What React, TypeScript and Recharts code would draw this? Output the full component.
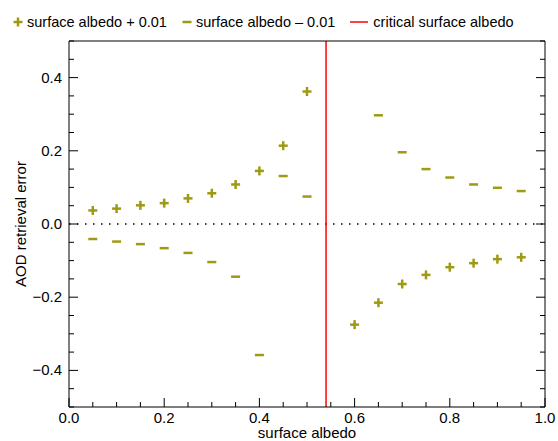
import {
  ScatterChart, Scatter, XAxis, YAxis, ReferenceLine,
} from 'recharts'

const OLIVE = '#9f9a12'
const RED = '#ff0000'
const FONT = '"Liberation Sans", Arial, Helvetica, sans-serif'

// surface albedo + 0.01
const plusX = [0.05, 0.1, 0.15, 0.2, 0.25, 0.3, 0.35, 0.4, 0.45, 0.5, 0.6, 0.65, 0.7, 0.75, 0.8, 0.85, 0.9, 0.95]
const plusY = [0.037, 0.042, 0.051, 0.057, 0.07, 0.084, 0.108, 0.145, 0.214, 0.362, -0.275, -0.215, -0.164, -0.139, -0.118, -0.107, -0.096, -0.091]

// surface albedo - 0.01
const minusX = [0.05, 0.1, 0.15, 0.2, 0.25, 0.3, 0.35, 0.4, 0.45, 0.5, 0.65, 0.7, 0.75, 0.8, 0.85, 0.9, 0.95]
const minusY = [-0.041, -0.048, -0.055, -0.066, -0.079, -0.104, -0.144, -0.358, 0.131, 0.075, 0.297, 0.196, 0.15, 0.127, 0.108, 0.099, 0.09]

const criticalAlbedo = 0.54

const xTicks = [0, 0.05, 0.1, 0.15, 0.2, 0.25, 0.3, 0.35, 0.4, 0.45, 0.5, 0.55, 0.6, 0.65, 0.7, 0.75, 0.8, 0.85, 0.9, 0.95, 1.0]
const yTicks = [-0.5, -0.45, -0.4, -0.35, -0.3, -0.25, -0.2, -0.15, -0.1, -0.05, 0, 0.05, 0.1, 0.15, 0.2, 0.25, 0.3, 0.35, 0.4, 0.45, 0.5]
const xLabelTicks = [0, 0.2, 0.4, 0.6, 0.8, 1.0]
const yLabelTicks = [-0.4, -0.2, 0, 0.2, 0.4]

const plusData = plusX.map((x, i) => ({ x, y: plusY[i] }))
const minusData = minusX.map((x, i) => ({ x, y: minusY[i] }))

const isMajor = (v: number, list: number[]) => list.some(t => Math.abs(t - v) < 1e-6)
const fmt = (v: number) => (v < 0 ? '\u2212' : '') + Math.abs(v).toFixed(1)

const MAJOR = 9
const MINOR = 5

function BottomTick({ x, y, payload }: any) {
  const major = isMajor(payload.value, xLabelTicks)
  return (
    <g>
      <line x1={x} x2={x} y1={y} y2={y - (major ? MAJOR : MINOR)} stroke="#000" />
      {major && (
        <text x={x} y={y + 16} textAnchor="middle" fontSize={15} fontFamily={FONT} fill="#000">{fmt(payload.value)}</text>
      )}
    </g>
  )
}

function TopTick({ x, y, payload }: any) {
  const major = isMajor(payload.value, xLabelTicks)
  return <line x1={x} x2={x} y1={y} y2={y + (major ? MAJOR : MINOR)} stroke="#000" />
}

function LeftTick({ x, y, payload }: any) {
  const major = isMajor(payload.value, yLabelTicks)
  return (
    <g>
      <line x1={x} x2={x + (major ? MAJOR : MINOR)} y1={y} y2={y} stroke="#000" />
      {major && (
        <text x={x - 7} y={y + 5} textAnchor="end" fontSize={15} fontFamily={FONT} fill="#000">{fmt(payload.value)}</text>
      )}
    </g>
  )
}

function RightTick({ x, y, payload }: any) {
  const major = isMajor(payload.value, yLabelTicks)
  return <line x1={x} x2={x - (major ? MAJOR : MINOR)} y1={y} y2={y} stroke="#000" />
}

function PlusShape({ cx, cy }: any) {
  return (
    <g>
      <line x1={cx - 4.5} x2={cx + 4.5} y1={cy} y2={cy} stroke={OLIVE} strokeWidth={2.5} />
      <line x1={cx} x2={cx} y1={cy - 4.5} y2={cy + 4.5} stroke={OLIVE} strokeWidth={2.5} />
    </g>
  )
}

function MinusShape({ cx, cy }: any) {
  return <line x1={cx - 4.5} x2={cx + 4.5} y1={cy} y2={cy} stroke={OLIVE} strokeWidth={2.5} />
}

function LegendBar() {
  const item = { display: 'flex', alignItems: 'center', marginRight: 15 }
  return (
    <div style={{
      position: 'absolute', top: 14, left: 13, display: 'flex', alignItems: 'center',
      fontFamily: FONT, fontSize: 14.5, color: '#000', whiteSpace: 'nowrap',
    }}>
      <div style={item}>
        <svg width={10} height={10} style={{ marginRight: 4 }}>
          <line x1={0.5} x2={9.5} y1={5} y2={5} stroke={OLIVE} strokeWidth={2.5} />
          <line x1={5} x2={5} y1={0.5} y2={9.5} stroke={OLIVE} strokeWidth={2.5} />
        </svg>
        <span>surface albedo + 0.01</span>
      </div>
      <div style={item}>
        <svg width={10} height={10} style={{ marginRight: 4 }}>
          <line x1={0.5} x2={9.5} y1={5} y2={5} stroke={OLIVE} strokeWidth={2.5} />
        </svg>
        <span>surface albedo – 0.01</span>
      </div>
      <div style={item}>
        <svg width={18} height={10} style={{ marginRight: 5 }}>
          <line x1={0} x2={18} y1={5} y2={5} stroke={RED} strokeWidth={1.5} />
        </svg>
        <span>critical surface albedo</span>
      </div>
    </div>
  )
}

export default function App() {
  return (
    <div style={{ position: 'absolute', left: 0, top: 0, width: 558, height: 441, background: '#fff' }}>
      <ScatterChart width={558} height={441} margin={{ top: 0, right: 0, bottom: 0, left: 0 }}>
        <XAxis
          xAxisId={0} type="number" dataKey="x" domain={[0, 1]} ticks={xTicks}
          height={34} tickSize={0} tickMargin={0} tickLine={false} interval={0}
          axisLine={{ stroke: '#000' }} tick={<BottomTick />}
          label={{ value: 'surface albedo', position: 'insideBottom', offset: 3, fontSize: 15, fontFamily: FONT, fill: '#000' }}
        />
        <XAxis
          xAxisId="top" orientation="top" type="number" domain={[0, 1]} ticks={xTicks}
          height={41} tickSize={0} tickMargin={0} tickLine={false} interval={0}
          axisLine={{ stroke: '#000' }} tick={<TopTick />} allowDataOverflow
        />
        <YAxis
          yAxisId={0} type="number" dataKey="y" domain={[-0.5, 0.5]} ticks={yTicks}
          width={69} tickSize={0} tickMargin={0} tickLine={false} interval={0}
          axisLine={{ stroke: '#000' }} tick={<LeftTick />} allowDataOverflow
          label={{ value: 'AOD retrieval error', angle: -90, position: 'center', dx: -14, fontSize: 15, fontFamily: FONT, fill: '#000' }}
        />
        <YAxis
          yAxisId="right" orientation="right" type="number" domain={[-0.5, 0.5]} ticks={yTicks}
          width={13} tickSize={0} tickMargin={0} tickLine={false} interval={0}
          axisLine={{ stroke: '#000' }} tick={<RightTick />} allowDataOverflow
        />
        <ReferenceLine y={0} stroke="#000" strokeWidth={1.5} strokeDasharray="1.5 6.5" />
        <ReferenceLine x={criticalAlbedo} stroke={RED} strokeWidth={1.5} />
        <Scatter name="surface albedo + 0.01" data={plusData} shape={<PlusShape />} isAnimationActive={false} />
        <Scatter name="surface albedo - 0.01" data={minusData} shape={<MinusShape />} isAnimationActive={false} />
      </ScatterChart>
      <LegendBar />
    </div>
  )
}
